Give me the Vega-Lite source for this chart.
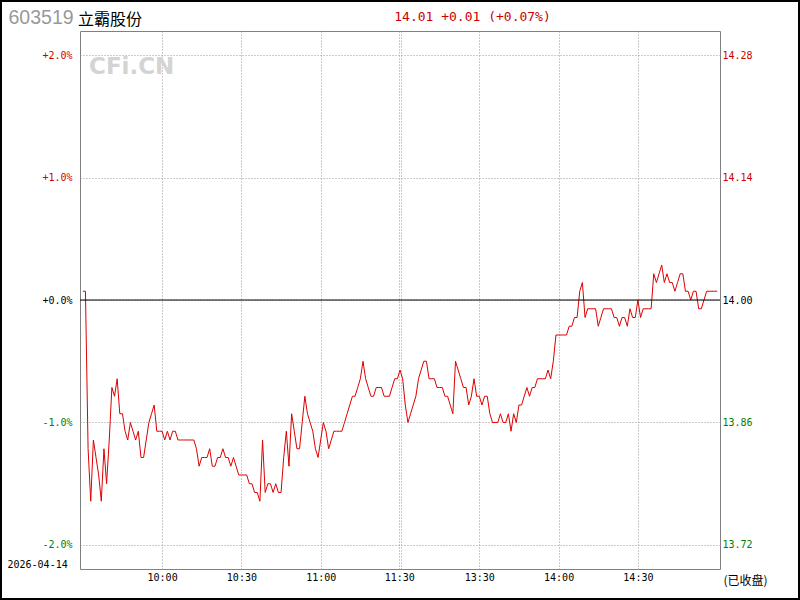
{
  "$schema": "https://vega.github.io/schema/vega-lite/v6.json",
  "width": 640,
  "height": 538,
  "autosize": {"type": "none"},
  "padding": {"left": 80, "top": 31, "right": 80, "bottom": 31},
  "background": "#ffffff",
  "title": {"text": "立霸股份", "anchor": "start", "frame": "group", "orient": "top", "offset": -41, "dx": -2, "baseline": "alphabetic", "font": "Noto Sans CJK SC", "fontSize": 16, "fontWeight": "normal", "color": "#000000"},
  "config": {"view": {"stroke": "#808080", "strokeWidth": 1}},
  "datasets": {
    "prices": [
      {"minute":0,"price":14.01},{"minute":1,"price":14.01},{"minute":2,"price":13.83},{"minute":3,"price":13.77},{"minute":4,"price":13.84},
      {"minute":5,"price":13.82},{"minute":6,"price":13.80},{"minute":7,"price":13.77},{"minute":8,"price":13.83},{"minute":9,"price":13.79},
      {"minute":10,"price":13.84},{"minute":11,"price":13.90},{"minute":12,"price":13.89},{"minute":13,"price":13.91},{"minute":14,"price":13.87},
      {"minute":15,"price":13.87},{"minute":16,"price":13.85},{"minute":17,"price":13.84},{"minute":18,"price":13.86},{"minute":19,"price":13.85},
      {"minute":20,"price":13.84},{"minute":21,"price":13.85},{"minute":22,"price":13.82},{"minute":23,"price":13.82},{"minute":24,"price":13.84},
      {"minute":25,"price":13.86},{"minute":26,"price":13.87},{"minute":27,"price":13.88},{"minute":28,"price":13.85},{"minute":29,"price":13.85},
      {"minute":30,"price":13.85},{"minute":31,"price":13.84},{"minute":32,"price":13.85},{"minute":33,"price":13.84},{"minute":34,"price":13.85},
      {"minute":35,"price":13.85},{"minute":36,"price":13.84},{"minute":37,"price":13.84},{"minute":38,"price":13.84},{"minute":39,"price":13.84},
      {"minute":40,"price":13.84},{"minute":41,"price":13.84},{"minute":42,"price":13.84},{"minute":43,"price":13.83},{"minute":44,"price":13.81},
      {"minute":45,"price":13.82},{"minute":46,"price":13.82},{"minute":47,"price":13.82},{"minute":48,"price":13.83},{"minute":49,"price":13.81},
      {"minute":50,"price":13.81},{"minute":51,"price":13.82},{"minute":52,"price":13.82},{"minute":53,"price":13.83},{"minute":54,"price":13.82},
      {"minute":55,"price":13.82},{"minute":56,"price":13.81},{"minute":57,"price":13.82},{"minute":58,"price":13.81},{"minute":59,"price":13.80},
      {"minute":60,"price":13.80},{"minute":61,"price":13.80},{"minute":62,"price":13.80},{"minute":63,"price":13.79},{"minute":64,"price":13.79},
      {"minute":65,"price":13.78},{"minute":66,"price":13.78},{"minute":67,"price":13.77},{"minute":68,"price":13.84},{"minute":69,"price":13.78},
      {"minute":70,"price":13.79},{"minute":71,"price":13.79},{"minute":72,"price":13.78},{"minute":73,"price":13.79},{"minute":74,"price":13.78},
      {"minute":75,"price":13.78},{"minute":76,"price":13.82},{"minute":77,"price":13.85},{"minute":78,"price":13.81},{"minute":79,"price":13.87},
      {"minute":80,"price":13.85},{"minute":81,"price":13.83},{"minute":82,"price":13.83},{"minute":83,"price":13.86},{"minute":84,"price":13.89},
      {"minute":85,"price":13.87},{"minute":86,"price":13.86},{"minute":87,"price":13.85},{"minute":88,"price":13.83},{"minute":89,"price":13.82},
      {"minute":90,"price":13.84},{"minute":91,"price":13.86},{"minute":92,"price":13.85},{"minute":93,"price":13.83},{"minute":94,"price":13.84},
      {"minute":95,"price":13.85},{"minute":96,"price":13.85},{"minute":97,"price":13.85},{"minute":98,"price":13.85},{"minute":99,"price":13.86},
      {"minute":100,"price":13.87},{"minute":101,"price":13.88},{"minute":102,"price":13.89},{"minute":103,"price":13.89},{"minute":104,"price":13.90},
      {"minute":105,"price":13.91},{"minute":106,"price":13.93},{"minute":107,"price":13.91},{"minute":108,"price":13.90},{"minute":109,"price":13.89},
      {"minute":110,"price":13.89},{"minute":111,"price":13.90},{"minute":112,"price":13.90},{"minute":113,"price":13.90},{"minute":114,"price":13.89},
      {"minute":115,"price":13.89},{"minute":116,"price":13.89},{"minute":117,"price":13.90},{"minute":118,"price":13.91},{"minute":119,"price":13.91},
      {"minute":120,"price":13.92},{"minute":121,"price":13.91},{"minute":122,"price":13.88},{"minute":123,"price":13.86},{"minute":124,"price":13.87},
      {"minute":125,"price":13.88},{"minute":126,"price":13.89},{"minute":127,"price":13.91},{"minute":128,"price":13.92},{"minute":129,"price":13.93},
      {"minute":130,"price":13.93},{"minute":131,"price":13.91},{"minute":132,"price":13.91},{"minute":133,"price":13.91},{"minute":134,"price":13.90},
      {"minute":135,"price":13.90},{"minute":136,"price":13.90},{"minute":137,"price":13.89},{"minute":138,"price":13.89},{"minute":139,"price":13.88},
      {"minute":140,"price":13.87},{"minute":141,"price":13.93},{"minute":142,"price":13.92},{"minute":143,"price":13.91},{"minute":144,"price":13.90},
      {"minute":145,"price":13.90},{"minute":146,"price":13.88},{"minute":147,"price":13.89},{"minute":148,"price":13.91},{"minute":149,"price":13.89},
      {"minute":150,"price":13.89},{"minute":151,"price":13.88},{"minute":152,"price":13.89},{"minute":153,"price":13.89},{"minute":154,"price":13.87},
      {"minute":155,"price":13.86},{"minute":156,"price":13.86},{"minute":157,"price":13.86},{"minute":158,"price":13.87},{"minute":159,"price":13.86},
      {"minute":160,"price":13.86},{"minute":161,"price":13.87},{"minute":162,"price":13.85},{"minute":163,"price":13.87},{"minute":164,"price":13.86},
      {"minute":165,"price":13.88},{"minute":166,"price":13.88},{"minute":167,"price":13.89},{"minute":168,"price":13.90},{"minute":169,"price":13.89},
      {"minute":170,"price":13.90},{"minute":171,"price":13.90},{"minute":172,"price":13.91},{"minute":173,"price":13.91},{"minute":174,"price":13.91},
      {"minute":175,"price":13.91},{"minute":176,"price":13.92},{"minute":177,"price":13.91},{"minute":178,"price":13.93},{"minute":179,"price":13.96},
      {"minute":180,"price":13.96},{"minute":181,"price":13.96},{"minute":182,"price":13.96},{"minute":183,"price":13.96},{"minute":184,"price":13.97},
      {"minute":185,"price":13.97},{"minute":186,"price":13.98},{"minute":187,"price":13.98},{"minute":188,"price":14.01},{"minute":189,"price":14.02},
      {"minute":190,"price":13.98},{"minute":191,"price":13.99},{"minute":192,"price":13.99},{"minute":193,"price":13.99},{"minute":194,"price":13.99},
      {"minute":195,"price":13.97},{"minute":196,"price":13.98},{"minute":197,"price":13.99},{"minute":198,"price":13.99},{"minute":199,"price":13.99},
      {"minute":200,"price":13.99},{"minute":201,"price":13.98},{"minute":202,"price":13.98},{"minute":203,"price":13.97},{"minute":204,"price":13.98},
      {"minute":205,"price":13.98},{"minute":206,"price":13.97},{"minute":207,"price":13.99},{"minute":208,"price":13.98},{"minute":209,"price":13.98},
      {"minute":210,"price":14.00},{"minute":211,"price":13.98},{"minute":212,"price":13.99},{"minute":213,"price":13.99},{"minute":214,"price":13.99},
      {"minute":215,"price":13.99},{"minute":216,"price":14.03},{"minute":217,"price":14.02},{"minute":218,"price":14.03},{"minute":219,"price":14.04},
      {"minute":220,"price":14.02},{"minute":221,"price":14.03},{"minute":222,"price":14.02},{"minute":223,"price":14.02},{"minute":224,"price":14.01},
      {"minute":225,"price":14.02},{"minute":226,"price":14.03},{"minute":227,"price":14.03},{"minute":228,"price":14.01},{"minute":229,"price":14.01},
      {"minute":230,"price":14.00},{"minute":231,"price":14.01},{"minute":232,"price":14.01},{"minute":233,"price":13.99},{"minute":234,"price":13.99},
      {"minute":235,"price":14.00},{"minute":236,"price":14.01},{"minute":237,"price":14.01},{"minute":238,"price":14.01},{"minute":239,"price":14.01},
      {"minute":240,"price":14.01}
    ]
  },
  "layer": [
    {
      "data": {"name": "prices"},
      "mark": {"type": "line", "color": "#dd0000", "strokeWidth": 1, "interpolate": "linear"},
      "encoding": {
        "x": {
          "field": "minute", "type": "quantitative",
          "scale": {"domain": [-1.06, 241.06], "nice": false, "zero": false},
          "axis": {
            "orient": "bottom",
            "values": [30, 60, 90, 119.7, 120.4, 150, 180, 210],
            "labelExpr": "datum.value == 30 ? '10:00' : datum.value == 60 ? '10:30' : datum.value == 90 ? '11:00' : datum.value == 119.7 ? '11:30' : datum.value == 150 ? '13:30' : datum.value == 180 ? '14:00' : datum.value == 210 ? '14:30' : ''",
            "grid": true, "gridColor": "#999999", "gridDash": [1, 2], "gridWidth": 1,
            "ticks": false, "domain": false,
            "labelFont": "DejaVu Sans Mono", "labelFontSize": 10, "labelColor": "#000000",
            "labelPadding": 3, "labelBaseline": "top", "labelFlush": false, "labelOverlap": false,
            "title": "2026-04-14", "titleX": -73, "titleY": -2, "titleAlign": "left", "titleBaseline": "alphabetic",
            "titleFont": "DejaVu Sans Mono", "titleFontSize": 10, "titleFontWeight": "normal", "titleColor": "#000000"
          }
        },
        "y": {
          "field": "price", "type": "quantitative",
          "scale": {"domain": [13.69257, 14.30743], "nice": false, "zero": false},
          "axis": {
            "orient": "left",
            "values": [13.72, 13.86, 14.0, 14.14, 14.28],
            "labelExpr": "datum.value > 14.2 ? '+2.0%' : datum.value > 14.1 ? '+1.0%' : datum.value > 13.99 ? '+0.0%' : datum.value > 13.8 ? '-1.0%' : '-2.0%'",
            "labelColor": {"condition": [{"test": "datum.value > 14.001", "value": "#cc0000"}, {"test": "datum.value < 13.999", "value": "#008000"}], "value": "#000000"},
            "grid": true, "gridColor": "#999999", "gridDash": [1, 2], "gridWidth": 1,
            "ticks": false, "domain": false,
            "labelFont": "DejaVu Sans Mono", "labelFontSize": 10, "labelPadding": 8, "labelBaseline": "middle", "labelFlush": false, "labelOverlap": false,
            "title": "603519", "titleX": -72, "titleY": -8, "titleAngle": 0, "titleAlign": "left", "titleBaseline": "alphabetic",
            "titleFont": "Liberation Sans", "titleFontSize": 19.5, "titleFontWeight": "normal", "titleColor": "#999999"
          }
        }
      }
    },
    {
      "data": {"values": [{}]},
      "mark": {"type": "rule", "color": "#000000", "strokeWidth": 1},
      "encoding": {
        "y": {
          "datum": 14.0, "type": "quantitative",
          "axis": {
            "orient": "right",
            "values": [13.72, 13.86, 14.0, 14.14, 14.28],
            "format": ".2f",
            "labelColor": {"condition": [{"test": "datum.value > 14.001", "value": "#cc0000"}, {"test": "datum.value < 13.999", "value": "#008000"}], "value": "#000000"},
            "grid": false, "ticks": false, "domain": false,
            "labelFont": "DejaVu Sans Mono", "labelFontSize": 10, "labelPadding": 2, "labelBaseline": "middle", "labelFlush": false, "labelOverlap": false,
            "title": "(已收盘)", "titleX": 3, "titleY": 553, "titleAngle": 0, "titleAlign": "left", "titleBaseline": "alphabetic",
            "titleFont": "Noto Sans CJK SC", "titleFontSize": 12, "titleFontWeight": "normal", "titleColor": "#000000"
          }
        }
      }
    },
    {
      "data": {"values": [{}]},
      "mark": {"type": "text", "text": "CFi.CN", "font": "DejaVu Sans", "fontWeight": "bold", "fontSize": 23, "color": "#d4d4d4", "align": "left", "baseline": "alphabetic"},
      "encoding": {
        "x": {
          "datum": 2.35, "type": "quantitative",
          "axis": {
            "orient": "top", "labels": false, "ticks": false, "domain": false, "grid": false,
            "title": "14.01 +0.01 (+0.07%)", "titleX": 392, "titleY": -11, "titleAlign": "center", "titleBaseline": "alphabetic",
            "titleFont": "DejaVu Sans Mono", "titleFontSize": 13, "titleFontWeight": "normal", "titleColor": "#cc0000"
          }
        },
        "y": {"datum": 14.2583, "type": "quantitative", "axis": null}
      }
    },
    {
      "data": {"values": [{}]},
      "mark": {"type": "rect", "fill": null, "stroke": "#000000", "strokeWidth": 2},
      "encoding": {
        "x": {"datum": -30.95, "type": "quantitative", "axis": null},
        "x2": {"datum": 270.95},
        "y": {"datum": 14.3417, "type": "quantitative", "axis": null},
        "y2": {"datum": 13.6583}
      }
    }
  ],
  "resolve": {"axis": {"x": "independent", "y": "independent"}}
}
